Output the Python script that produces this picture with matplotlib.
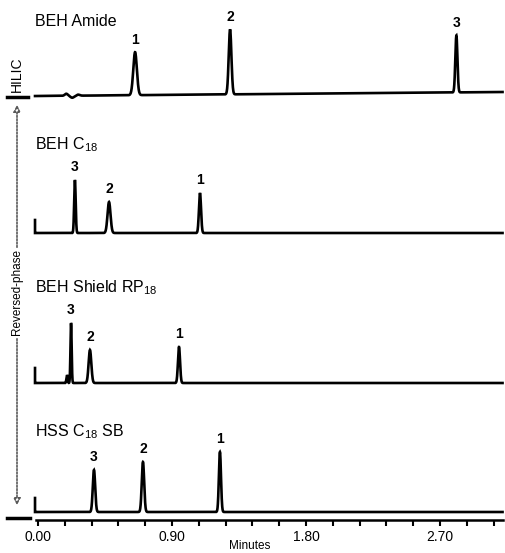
import numpy as np
import matplotlib
matplotlib.use("Agg")
import matplotlib.pyplot as plt

plt.rcParams['font.family'] = ['Liberation Sans', 'DejaVu Sans']
plt.rcParams['mathtext.default'] = 'regular'

# ---- data (retention time in minutes, peak heights in signal units) ----
columns = ["BEH Amide", "BEH C$_{18}$", "BEH Shield RP$_{18}$", "HSS C$_{18}$ SB"]
baselines = [424, 287, 137, 8]
peak_ids = [["1", "2", "3"], ["3", "2", "1"], ["3", "2", "1"], ["3", "2", "1"]]
peak_times = [[0.652, 1.29, 2.81], [0.248, 0.477, 1.088], [0.222, 0.349, 0.947], [0.376, 0.705, 1.222]]
peak_heights = [[43, 65, 57], [53, 31, 40], [60, 33, 36], [42, 50, 60]]
peak_sigmas = [[0.012, 0.009, 0.007], [0.005, 0.010, 0.007], [0.004, 0.009, 0.007], [0.008, 0.008, 0.007]]
# small extra features (time, height, sigma)
extra_peaks = [[(0.19, 2.0, 0.01), (0.23, -2.0, 0.012), (0.27, 1.0, 0.01)], [], [(0.195, 8, 0.004)], []]
injection_step = [0, 13, 15, 14]
baseline_drift = [4, 0, 0, 0]
run_end = 3.12
tick_major = [0.00, 0.90, 1.80, 2.70]
tick_minor_step = 0.18

fig = plt.figure(figsize=(5.06, 5.53), dpi=100)
W, H = 506, 553
ax = fig.add_axes([30 / W, (H - 520) / H, 475 / W, 520 / H])
x0px, pxmin = 38, 134 / 0.9
ax.set_xlim((30 - x0px) / pxmin, (505 - x0px) / pxmin)
ax.set_ylim(0, 520)

label_ys = [499, 375, 232, 88]

t = np.linspace(-0.02, run_end, 6000)
for i, name in enumerate(columns):
    b = baselines[i]
    y = np.full_like(t, float(b)) + baseline_drift[i] * (t / run_end)
    for pt, ph, ps in zip(peak_times[i], peak_heights[i], peak_sigmas[i]):
        y += ph * np.exp(-0.5 * ((t - pt) / ps) ** 2)
    for pt, ph, ps in extra_peaks[i]:
        y += ph * np.exp(-0.5 * ((t - pt) / ps) ** 2)
    if injection_step[i]:
        tt = np.concatenate([[t[0], t[0]], t])
        yy = np.concatenate([[b + injection_step[i], b], y])
    else:
        tt, yy = t, y
    ax.plot(tt, yy, color='black', lw=1.9, solid_joinstyle='miter')
    for pid, pt, ph in zip(peak_ids[i], peak_times[i], peak_heights[i]):
        top = b + ph + baseline_drift[i] * (pt / run_end)
        ax.annotate(pid, (pt, top), xytext=(0, 4), textcoords='offset points',
                    ha='center', va='bottom', fontsize=10, fontweight='bold')
    ax.text(-0.02, label_ys[i], name, fontsize=11.5, ha='left', va='center')

for s in ['top', 'right', 'left']:
    ax.spines[s].set_visible(False)
ax.spines['bottom'].set_linewidth(1.8)
ax.spines['bottom'].set_bounds(-0.015, run_end)
ax.set_yticks([])
ax.set_xticks(tick_major)
ax.set_xticklabels([f"{v:.2f}" for v in tick_major], fontsize=10)
ax.set_xticks(np.arange(0, run_end, tick_minor_step), minor=True)
ax.tick_params(axis='x', which='both', direction='out', length=4, width=1.5, pad=3)

# left-side mode annotations (figure pixels)
def fp(x, y):
    return (x / W, (H - y) / H)

fig.text(*fp(250, 546), "Minutes", ha='center', va='center', fontsize=8.5)
fig.text(*fp(17, 74), "HILIC", rotation=90, ha='center', va='center', fontsize=10)
fig.add_artist(plt.Line2D([7 / W, 28 / W], [(H - 97) / H] * 2, color='black', lw=2.5))
fig.text(*fp(17, 292), "Reversed-phase", rotation=90, ha='center', va='center', fontsize=8.5)
fig.add_artist(plt.Line2D([7 / W, 30 / W], [(H - 518) / H] * 2, color='black', lw=2.5))
ax.annotate("", xy=fp(17, 102), xycoords='figure fraction', xytext=fp(17, 250),
            textcoords='figure fraction',
            arrowprops=dict(arrowstyle='-|>', linestyle=(0, (1, 1)), color='0.35', lw=1.2,
                            mutation_scale=10, fc='white'))
ax.annotate("", xy=fp(17, 508), xycoords='figure fraction', xytext=fp(17, 336),
            textcoords='figure fraction',
            arrowprops=dict(arrowstyle='-|>', linestyle=(0, (1, 1)), color='0.35', lw=1.2,
                            mutation_scale=10, fc='white'))

fig.savefig("out.png", dpi=100, facecolor='white')
